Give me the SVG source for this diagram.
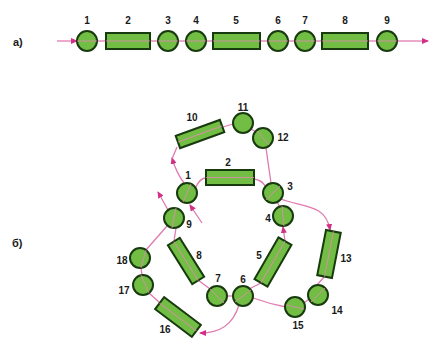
<svg xmlns="http://www.w3.org/2000/svg" width="433" height="338" viewBox="0 0 433 338">
<style>
.n{fill:#72bd44;stroke:#173a0e;stroke-width:2}
.s{stroke:#e48ab8;stroke-width:1;fill:none;opacity:0.8}
.c{stroke:#e07ab0;stroke-width:1.3;fill:none}
.t{font-family:"Liberation Sans",Arial,sans-serif;font-weight:bold;font-size:10px;fill:#1a1a1a;text-anchor:middle}
.h{font-family:"Liberation Sans",Arial,sans-serif;font-weight:bold;font-size:11px;fill:#1a1a1a}
</style>
<defs>
<marker id="ar" markerWidth="7" markerHeight="6" refX="6" refY="3" orient="auto" markerUnits="userSpaceOnUse">
<path d="M0,0 L7,3 L0,6 Z" fill="#d22f86"/>
</marker>
</defs>
<rect width="433" height="338" fill="#ffffff"/>
<text class="h" x="13" y="46">а)</text>
<text class="h" x="12" y="247">б)</text>

<g id="connectors">
<line class="c" x1="57" y1="41" x2="77" y2="41" marker-end="url(#ar)"/>
<line class="c" x1="97" y1="41" x2="106" y2="41"/>
<line class="c" x1="150" y1="41" x2="158" y2="41"/>
<line class="c" x1="178" y1="41" x2="186" y2="41"/>
<line class="c" x1="206" y1="41" x2="213" y2="41"/>
<line class="c" x1="260" y1="41" x2="268" y2="41"/>
<line class="c" x1="288" y1="41" x2="295" y2="41"/>
<line class="c" x1="315" y1="41" x2="322" y2="41"/>
<line class="c" x1="368" y1="41" x2="377" y2="41"/>
<line class="c" x1="397" y1="41" x2="428" y2="41" marker-end="url(#ar)"/>

<path class="c" d="M196,187 Q200,178 206,178"/>
<path class="c" d="M254,179 Q262,180 266,187"/>
<line class="c" x1="277" y1="202" x2="280" y2="207"/>
<path class="c" d="M281,199 C300,207 326,203 330,230" marker-end="url(#ar)"/>
<line class="c" x1="266" y1="148" x2="271" y2="183"/>
<line class="c" x1="251" y1="129" x2="256" y2="132"/>
<line class="c" x1="233" y1="124" x2="223" y2="127"/>
<path class="c" d="M184,183 Q176,172 172,158" marker-end="url(#ar)"/>
<line class="c" x1="172" y1="159" x2="177" y2="147"/>
<line class="c" x1="285" y1="241" x2="283" y2="227" marker-end="url(#ar)"/>
<line class="c" x1="261" y1="283" x2="249" y2="289"/>
<line class="c" x1="233" y1="296" x2="227" y2="296"/>
<line class="c" x1="210" y1="289" x2="198" y2="280"/>
<line class="c" x1="174" y1="241" x2="176" y2="228"/>
<line class="c" x1="168" y1="210" x2="158" y2="192" marker-end="url(#ar)"/>
<line class="c" x1="202" y1="223" x2="190" y2="205" marker-end="url(#ar)"/>
<line class="c" x1="167" y1="226" x2="146" y2="250"/>
<line class="c" x1="141" y1="268" x2="142" y2="275"/>
<line class="c" x1="149" y1="293" x2="160" y2="303"/>
<path class="c" d="M239,305 C233,325 220,333 200,333" marker-end="url(#ar)"/>
<path class="c" d="M253,298 Q270,304 286,307"/>
<line class="c" x1="304" y1="303" x2="309" y2="299"/>
<line class="c" x1="317" y1="285" x2="324" y2="277"/>
</g>

<g id="a1"><circle class="n" cx="87" cy="41" r="10"/><line class="s" x1="77" y1="41" x2="97" y2="41"/><text class="t" x="87" y="24">1</text></g>
<g id="a2"><rect class="n" x="106" y="33" width="44" height="16"/><line class="s" x1="106" y1="41" x2="150" y2="41"/><text class="t" x="128" y="24">2</text></g>
<g id="a3"><circle class="n" cx="168" cy="41" r="10"/><line class="s" x1="158" y1="41" x2="178" y2="41"/><text class="t" x="168" y="24">3</text></g>
<g id="a4"><circle class="n" cx="196" cy="41" r="10"/><line class="s" x1="186" y1="41" x2="206" y2="41"/><text class="t" x="196" y="24">4</text></g>
<g id="a5"><rect class="n" x="213" y="33" width="47" height="16"/><line class="s" x1="213" y1="41" x2="260" y2="41"/><text class="t" x="236" y="24">5</text></g>
<g id="a6"><circle class="n" cx="278" cy="41" r="10"/><line class="s" x1="268" y1="41" x2="288" y2="41"/><text class="t" x="278" y="24">6</text></g>
<g id="a7"><circle class="n" cx="305" cy="41" r="10"/><line class="s" x1="295" y1="41" x2="315" y2="41"/><text class="t" x="305" y="24">7</text></g>
<g id="a8"><rect class="n" x="322" y="33" width="46" height="16"/><line class="s" x1="322" y1="41" x2="368" y2="41"/><text class="t" x="345" y="24">8</text></g>
<g id="a9"><circle class="n" cx="387" cy="41" r="10"/><line class="s" x1="377" y1="41" x2="397" y2="41"/><text class="t" x="387" y="24">9</text></g>

<g id="b1"><circle class="n" cx="187" cy="193" r="10"/><line class="s" x1="183" y1="202" x2="191" y2="184"/><text class="t" x="188" y="179">1</text></g>
<g id="b2"><rect class="n" x="206" y="170" width="48" height="15"/><line class="s" x1="206" y1="177.5" x2="254" y2="177.5"/><text class="t" x="228" y="166">2</text></g>
<g id="b3"><circle class="n" cx="273" cy="193" r="10"/><line class="s" x1="266" y1="200" x2="280" y2="186"/><text class="t" x="290" y="190">3</text></g>
<g id="b4"><circle class="n" cx="283" cy="216" r="10"/><line class="s" x1="282" y1="206" x2="284" y2="226"/><text class="t" x="268" y="222">4</text></g>
<g id="b5" transform="translate(273,262) rotate(-60)"><rect class="n" x="-24" y="-7.5" width="48" height="15"/><line class="s" x1="-24" y1="0" x2="24" y2="0"/></g>
<text class="t" x="259" y="259">5</text>
<g id="b6"><circle class="n" cx="243" cy="296" r="10"/><line class="s" x1="235" y1="302" x2="251" y2="290"/><text class="t" x="243" y="283">6</text></g>
<g id="b7"><circle class="n" cx="217" cy="296" r="10"/><line class="s" x1="210" y1="289" x2="224" y2="303"/><text class="t" x="218" y="282">7</text></g>
<g id="b8" transform="translate(186,261) rotate(58)"><rect class="n" x="-23" y="-7" width="46" height="14"/><line class="s" x1="-23" y1="0" x2="23" y2="0"/></g>
<text class="t" x="199" y="259">8</text>
<g id="b9"><circle class="n" cx="174" cy="218" r="10"/><line class="s" x1="176" y1="208" x2="172" y2="228"/><text class="t" x="189" y="228">9</text></g>
<g id="b10" transform="translate(200,134) rotate(-20)"><rect class="n" x="-23.5" y="-6.5" width="47" height="13"/><line class="s" x1="-23.5" y1="0" x2="23.5" y2="0"/></g>
<text class="t" x="192" y="121">10</text>
<g id="b11"><circle class="n" cx="243" cy="123" r="10"/><text class="t" x="243" y="111">11</text></g>
<g id="b12"><circle class="n" cx="263" cy="138" r="10"/><line class="s" x1="257" y1="131" x2="269" y2="145"/><text class="t" x="283" y="141">12</text></g>
<g id="b13" transform="translate(329,254) rotate(101)"><rect class="n" x="-23" y="-7.5" width="46" height="15"/><line class="s" x1="-23" y1="0" x2="23" y2="0"/></g>
<text class="t" x="346" y="262">13</text>
<g id="b14"><circle class="n" cx="318" cy="295" r="10"/><line class="s" x1="311" y1="302" x2="325" y2="288"/><text class="t" x="337" y="314">14</text></g>
<g id="b15"><circle class="n" cx="295" cy="307" r="10"/><line class="s" x1="286" y1="305" x2="304" y2="309"/><text class="t" x="298" y="329">15</text></g>
<g id="b16" transform="translate(178,317) rotate(37)"><rect class="n" x="-23" y="-7.5" width="46" height="15"/><line class="s" x1="-23" y1="0" x2="23" y2="0"/></g>
<text class="t" x="165" y="333">16</text>
<g id="b17"><circle class="n" cx="143" cy="285" r="10"/><line class="s" x1="141" y1="275" x2="149" y2="293"/><text class="t" x="124" y="294">17</text></g>
<g id="b18"><circle class="n" cx="140" cy="258" r="10"/><line class="s" x1="146" y1="250" x2="141" y2="268"/><text class="t" x="122" y="264">18</text></g>
</svg>
